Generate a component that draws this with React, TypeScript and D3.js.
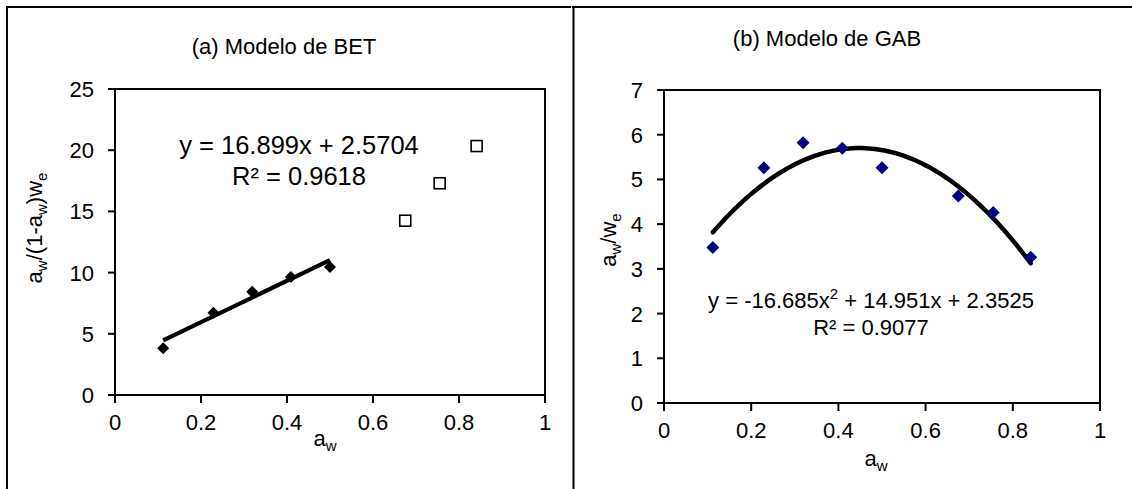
import React from 'react';
import * as d3 from 'd3';

// ---- data ----
const aw = [0.112, 0.229, 0.319, 0.409, 0.5, 0.675, 0.755, 0.841];
const betFitted = [3.81, 6.72, 8.44, 9.65, 10.45];
const betExcluded = [14.24, 17.3, 20.34];
const gabValues = [3.48, 5.26, 5.82, 5.7, 5.26, 4.63, 4.26, 3.26];
const xTicks = [0, 0.2, 0.4, 0.6, 0.8, 1];
const betYTicks = [0, 5, 10, 15, 20, 25];
const gabYTicks = [0, 1, 2, 3, 4, 5, 6, 7];
const betCoef = [2.5704, 16.899];
const gabCoef = [2.3525, 14.951, -16.685];
const titles = ['(a) Modelo de BET', '(b) Modelo de GAB'];

const FONT = '"Liberation Sans", Arial, sans-serif';

const poly = (c: number[], x: number) => c.reduce((s, v, i) => s + v * Math.pow(x, i), 0);

function Axes({ x, y, xt, yt, tickFs, labelEnd, xLabBase }: any) {
  const [x0, x1] = x.range();
  const [y0, y1] = y.range();
  return (
    <g>
      <rect x={x0} y={y1} width={x1 - x0} height={y0 - y1} fill="none" stroke="#000" strokeWidth={2} />
      {yt.map((t: number) => (
        <g key={'y' + t}>
          <line x1={x0 - 7} x2={x0} y1={y(t)} y2={y(t)} stroke="#000" strokeWidth={2} />
          <text x={labelEnd} y={y(t) + 8} textAnchor="end" fontSize={tickFs} fontFamily={FONT}>{t}</text>
        </g>
      ))}
      {xt.map((t: number) => (
        <g key={'x' + t}>
          <line x1={x(t)} x2={x(t)} y1={y0} y2={y0 + 8} stroke="#000" strokeWidth={2} />
          <text x={x(t)} y={xLabBase} textAnchor="middle" fontSize={tickFs} fontFamily={FONT}>{t}</text>
        </g>
      ))}
    </g>
  );
}

function diamond(cx: number, cy: number, r: number) {
  return `M${cx},${cy - r}L${cx + r},${cy}L${cx},${cy + r}L${cx - r},${cy}Z`;
}

export default function App() {
  // BET panel
  const bx = d3.scaleLinear().domain([0, 1]).range([115, 545]);
  const by = d3.scaleLinear().domain([0, 25]).range([395, 89]);
  // GAB panel
  const gx = d3.scaleLinear().domain([0, 1]).range([664, 1100]);
  const gy = d3.scaleLinear().domain([0, 7]).range([403, 90]);

  const betX = aw.slice(0, betFitted.length);
  const betOutX = aw.slice(betFitted.length);
  const betLine = d3.line<number>().x((d) => bx(d)).y((d) => by(poly(betCoef, d)));
  const betXs = [d3.min(betX)!, d3.max(betX)!];

  const gabLine = d3.line<number>().x((d) => gx(d)).y((d) => gy(poly(gabCoef, d))).curve(d3.curveLinear);
  const gmin = d3.min(aw)!, gmax = d3.max(aw)!;
  const gabXs = d3.range(0, 101).map((i) => gmin + ((gmax - gmin) * i) / 100);

  return (
    <svg width={1132} height={489} style={{ position: 'absolute', left: 0, top: 0, background: '#fff' }} fontFamily={FONT}>
      <rect width={1132} height={489} fill="#fff" />
      {/* frames */}
      <line x1={6} x2={571} y1={7} y2={7} stroke="#000" strokeWidth={2} />
      <line x1={7} x2={7} y1={6} y2={489} stroke="#000" strokeWidth={2} />
      <line x1={572} x2={1132} y1={7} y2={7} stroke="#000" strokeWidth={2} />
      <line x1={573.5} x2={573.5} y1={6} y2={489} stroke="#000" strokeWidth={2} />

      {/* ---- BET ---- */}
      <text x={284} y={54} textAnchor="middle" fontSize={22}>{titles[0]}</text>
      <Axes x={bx} y={by} xt={xTicks} yt={betYTicks} tickFs={22} labelEnd={94} xLabBase={430} />
      <path d={betLine(betXs)!} fill="none" stroke="#000" strokeWidth={4.2} />
      {betX.map((v, i) => (
        <path key={'bd' + i} d={diamond(bx(v), by(betFitted[i]), 6)} fill="#000" />
      ))}
      {betOutX.map((v, i) => (
        <rect key={'bs' + i} x={bx(v) - 5.5} y={by(betExcluded[i]) - 5.5} width={11} height={11} fill="#fff" stroke="#000" strokeWidth={1.6} />
      ))}
      <text x={299} y={154} textAnchor="middle" fontSize={25.5}>y = 16.899x + 2.5704</text>
      <text x={299} y={185} textAnchor="middle" fontSize={25.5}>R² = 0.9618</text>
      <text x={325} y={446} textAnchor="middle" fontSize={22}>
        a<tspan fontSize={15} dy={5}>w</tspan>
      </text>
      <text transform="translate(42,228) rotate(-90)" textAnchor="middle" fontSize={22}>
        a<tspan fontSize={15} dy={5}>w</tspan>
        <tspan dy={-5}>/(1-a</tspan>
        <tspan fontSize={15} dy={5}>w</tspan>
        <tspan dy={-5}>)w</tspan>
        <tspan fontSize={15} dy={5}>e</tspan>
      </text>

      {/* ---- GAB ---- */}
      <text x={827} y={46} textAnchor="middle" fontSize={22}>{titles[1]}</text>
      <Axes x={gx} y={gy} xt={xTicks} yt={gabYTicks} tickFs={22} labelEnd={643} xLabBase={438} />
      <path d={gabLine(gabXs)!} fill="none" stroke="#000" strokeWidth={4.5} strokeLinecap="round" />
      {aw.map((v, i) => (
        <path key={'gd' + i} d={diamond(gx(v), gy(gabValues[i]), 6.5)} fill="#000080" />
      ))}
      <text x={871} y={308} textAnchor="middle" fontSize={22}>
        y = -16.685x<tspan fontSize={15} dy={-9}>2</tspan>
        <tspan dy={9}> + 14.951x + 2.3525</tspan>
      </text>
      <text x={871} y={335} textAnchor="middle" fontSize={22}>R² = 0.9077</text>
      <text x={876} y={466} textAnchor="middle" fontSize={22}>
        a<tspan fontSize={15} dy={5}>w</tspan>
      </text>
      <text transform="translate(616,240) rotate(-90)" textAnchor="middle" fontSize={22}>
        a<tspan fontSize={15} dy={5}>w</tspan>
        <tspan dy={-5}>/w</tspan>
        <tspan fontSize={15} dy={5}>e</tspan>
      </text>
    </svg>
  );
}
